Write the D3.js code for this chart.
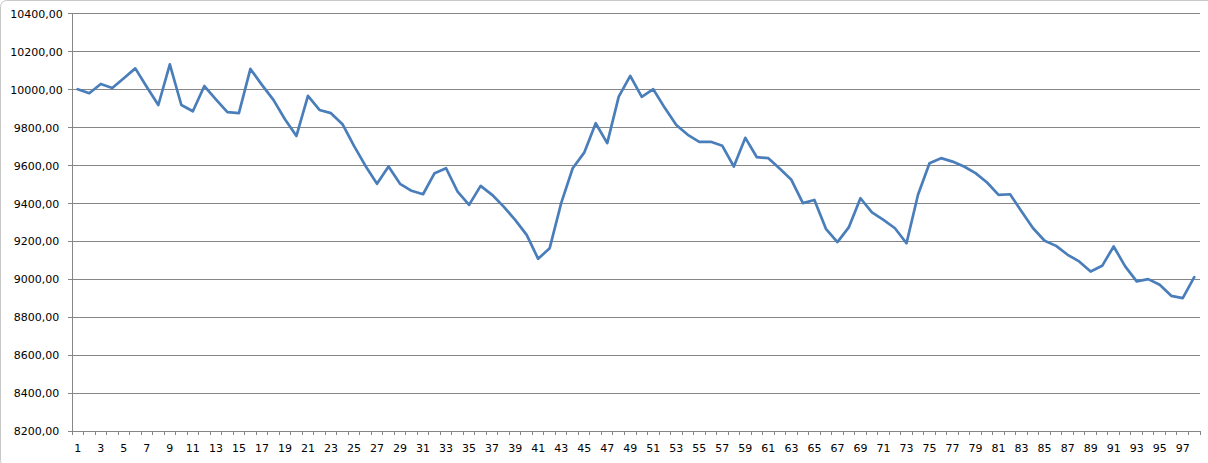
<!DOCTYPE html>
<html>
<head>
<meta charset="utf-8">
<script src="https://cdn.jsdelivr.net/npm/d3@7/dist/d3.min.js"></script>
<style>
  html, body { margin: 0; padding: 0; background: #fff; }
  svg { display: block; }
  text { font-family: "DejaVu Sans", Verdana, sans-serif; font-size: 11px; fill: #000; }
</style>
</head>
<body>
<svg id="chart" width="1208" height="463"></svg>
<script>
const categories = d3.range(1, 99);
const values = [
  10000, 9979, 10028, 10007, 10058, 10110, 10012, 9917, 10131, 9917,
  9884, 10017, 9947, 9879, 9874, 10107, 10023, 9944, 9842, 9754,
  9965, 9891, 9874, 9816, 9702, 9596, 9502, 9593, 9502, 9465,
  9447, 9558, 9584, 9461, 9391, 9491, 9444, 9382, 9312, 9233,
  9107, 9163, 9400, 9584, 9666, 9821, 9716, 9961, 10070, 9960,
  10000, 9902, 9812, 9760, 9723, 9723, 9702, 9593, 9744, 9642,
  9637, 9581, 9523, 9400, 9417, 9265, 9195, 9274, 9426, 9351,
  9312, 9268, 9189, 9444, 9610, 9637, 9619, 9593, 9558, 9509,
  9444, 9447, 9356, 9268, 9202, 9175, 9128, 9093, 9040, 9070,
  9172, 9067, 8988, 9000, 8970, 8912, 8900, 9010
];
const yTicks = d3.range(8200, 10401, 200);
const xTickLabels = categories.filter(d => d % 2 === 1);

(function () {
const svg = d3.select("#chart");
const pLeft = 72, pRight = 1200, pTop = 13.3, pBottom = 431;
const gridColor = "#868686";

// chart border (extends beyond the right/bottom of the frame)
svg.append("rect")
  .attr("x", 0.5).attr("y", 0.5).attr("width", 1240).attr("height", 466)
  .attr("rx", 6).attr("fill", "none").attr("stroke", "#c8c8c8");

const x = d3.scaleBand().domain(categories).range([pLeft, pRight]).paddingInner(0).paddingOuter(0);
const y = d3.scaleLinear().domain([8200, 10400]).range([pBottom, pTop]);

const loc = d3.formatLocale({decimal: ",", thousands: "", grouping: [3], currency: ["", ""]});
const fmt = loc.format(".2f");

// gridlines (extend left of axis as ticks)
const grid = svg.append("g")
  .attr("transform", `translate(${pRight},0)`)
  .call(d3.axisLeft(y).tickValues(yTicks).tickSize(pRight - pLeft + 4).tickFormat(""));
grid.select(".domain").remove();
grid.selectAll(".tick line").attr("stroke", gridColor).attr("shape-rendering", "crispEdges");

// y labels (centered)
const yLab = svg.append("g")
  .attr("transform", `translate(${pLeft},0)`)
  .call(d3.axisLeft(y).tickValues(yTicks).tickSize(0).tickFormat(fmt));
yLab.select(".domain").remove();
yLab.selectAll(".tick text").attr("text-anchor", "middle").attr("x", 36.5 - pLeft).attr("dy", "0.35em");

// y axis line
svg.append("line")
  .attr("x1", pLeft).attr("x2", pLeft).attr("y1", pTop).attr("y2", pBottom + 4)
  .attr("stroke", gridColor).attr("shape-rendering", "crispEdges");

// x axis line
svg.append("line")
  .attr("x1", pLeft - 4).attr("x2", pRight).attr("y1", y(8200)).attr("y2", y(8200))
  .attr("stroke", gridColor).attr("shape-rendering", "crispEdges");

// x tick marks at category boundaries
const edges = categories.map(d => x(d)).concat([x(categories[categories.length - 1]) + x.bandwidth()]);
svg.append("g").selectAll("line").data(edges).join("line")
  .attr("x1", d => d).attr("x2", d => d)
  .attr("y1", pBottom).attr("y2", pBottom + 4)
  .attr("stroke", gridColor).attr("shape-rendering", "crispEdges");

// x labels
const xAx = svg.append("g")
  .attr("transform", `translate(0,${pBottom})`)
  .call(d3.axisBottom(x).tickValues(xTickLabels).tickSize(0).tickPadding(13));
xAx.select(".domain").remove();

// line
const line = d3.line()
  .x((d, i) => x(categories[i]) + x.bandwidth() / 2)
  .y(d => y(d));
svg.append("path")
  .datum(values)
  .attr("d", line)
  .attr("fill", "none")
  .attr("stroke", "#4a7ebb")
  .attr("stroke-width", 2.7)
  .attr("stroke-linejoin", "round")
  .attr("stroke-linecap", "round");
})();
</script>
</body>
</html>
